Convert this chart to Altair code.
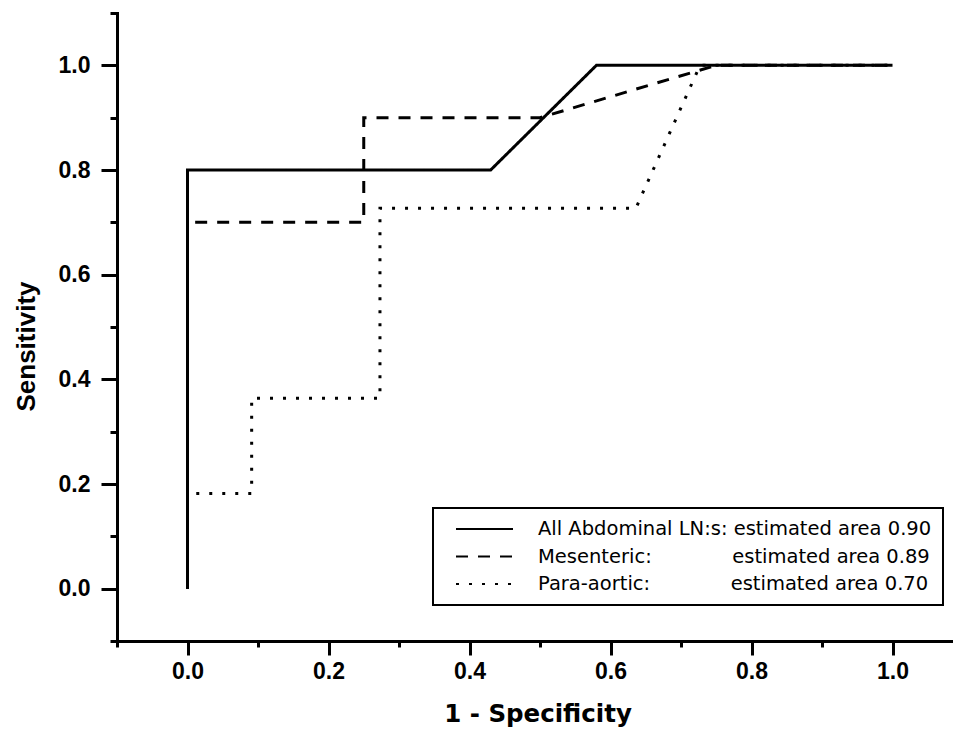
import altair as alt
import pandas as pd

# ---- data ----
series_names = ["All Abdominal LN:s", "Mesenteric", "Para-aortic"]
areas = [0.90, 0.89, 0.70]

all_x = [0.0, 0.0, 0.43, 0.58, 1.0]
all_y = [0.0, 0.8, 0.8, 1.0, 1.0]

mes_x = [0.0, 0.0, 0.25, 0.25, 0.5, 0.75, 1.0]
mes_y = [0.0, 0.7, 0.7, 0.9, 0.9, 1.0, 1.0]

para_x = [0.0, 0.0, 0.091, 0.091, 0.273, 0.273, 0.636, 0.727, 1.0]
para_y = [0.0, 0.182, 0.182, 0.364, 0.364, 0.727, 0.727, 1.0, 1.0]

x_ticks = [-0.1, 0.0, 0.1, 0.2, 0.3, 0.4, 0.5, 0.6, 0.7, 0.8, 0.9, 1.0]
y_ticks = [-0.1, 0.0, 0.1, 0.2, 0.3, 0.4, 0.5, 0.6, 0.7, 0.8, 0.9, 1.0, 1.1]

# legend label text (name column padded so "estimated area" lines up)
NB = "\u00a0"
pad_counts = [1, 13, 13]
labels = [
    f"{n}:{NB * p}estimated area {a:.2f}"
    for n, a, p in zip(series_names, areas, pad_counts)
]

rows = []
for lab, xs, ys in zip(labels, [all_x, mes_x, para_x], [all_y, mes_y, para_y]):
    for i, (xv, yv) in enumerate(zip(xs, ys)):
        rows.append({"series": lab, "fpr": xv, "tpr": yv, "idx": i})
df = pd.DataFrame(rows)

minor_test = "round(datum.value * 10) % 2 == 0"
label_expr = f"{minor_test} ? format(datum.value, '.1f') : ''"

x_axis = alt.Axis(
    values=x_ticks,
    labelExpr=label_expr,
    tickSize={"condition": {"test": minor_test, "value": 14}, "value": 6},
    tickWidth=3,
    tickColor="black",
    domainColor="black",
    domainWidth=3,
    domainCap="square",
    grid=False,
    labelFont="Liberation Sans",
    labelFontWeight="bold",
    labelFontSize=23,
    labelColor="black",
    labelPadding=5,
    labelFlush=False,
    labelOverlap=False,
    title="1 - Specificity",
    titleFont="DejaVu Sans",
    titleFontWeight="bold",
    titleFontSize=24.5,
    titleColor="black",
    titleX=420.5,
    titleY=80.7,
    titleBaseline="alphabetic",
    titleAlign="center",
)

y_axis = alt.Axis(
    values=y_ticks,
    labelExpr=label_expr,
    tickSize={"condition": {"test": minor_test, "value": 16}, "value": 7},
    tickWidth=3,
    tickColor="black",
    domainColor="black",
    domainWidth=3,
    domainCap="square",
    grid=False,
    labelFont="Liberation Sans",
    labelFontWeight="bold",
    labelFontSize=23,
    labelColor="black",
    labelPadding=11,
    labelFlush=False,
    labelOverlap=False,
    title="Sensitivity",
    titleFont="Liberation Sans",
    titleFontWeight="bold",
    titleFontSize=26,
    titleColor="black",
    titleX=-83,
    titleY=333,
    titleBaseline="alphabetic",
    titleAlign="center",
    titleAngle=270,
)

legend_kwargs = dict(
    orient="none",
    legendX=316,
    legendY=495,
    title=None,
    symbolType="stroke",
    symbolSize=3249,
    symbolStrokeWidth=2,
    symbolStrokeColor="black",
    symbolOffset=11,
    labelFont="DejaVu Sans",
    labelFontSize=19.5,
    labelColor="black",
    labelLimit=1000,
    labelOffset=24,
    padding=11,
    rowPadding=7.5,
    clipHeight=20,
    strokeColor="black",
    fillColor="white",
)

legend_cfg = {}
try:
    cfg_props = alt.LegendConfig.resolve_references().get("properties", {})
    if "strokeWidth" in cfg_props:
        legend_cfg["strokeWidth"] = 2
except Exception:
    pass

chart = (
    alt.Chart(df)
    .mark_line(color="black", strokeWidth=3, strokeCap="butt", strokeJoin="miter", clip=False)
    .encode(
        x=alt.X("fpr:Q", scale=alt.Scale(domain=[-0.1, 1.0858], nice=False, zero=False), axis=x_axis),
        y=alt.Y("tpr:Q", scale=alt.Scale(domain=[-0.1, 1.1], nice=False, zero=False), axis=y_axis),
        strokeDash=alt.StrokeDash(
            "series:N",
            scale=alt.Scale(domain=labels, range=[[1, 0], [12, 10], [3, 10]]),
            legend=alt.Legend(**legend_kwargs),
        ),
        order=alt.Order("idx:Q"),
    )
    .properties(
        width=836,
        height=628,
        autosize=alt.AutoSizeParams(type="none"),
        padding={"left": 109, "top": 5, "right": 0, "bottom": 88},
        background="white",
    )
    .configure_view(stroke=None)
)
if legend_cfg:
    chart = chart.configure_legend(**legend_cfg)

chart.save("out.html", embed_options={"renderer": "svg", "actions": False})
